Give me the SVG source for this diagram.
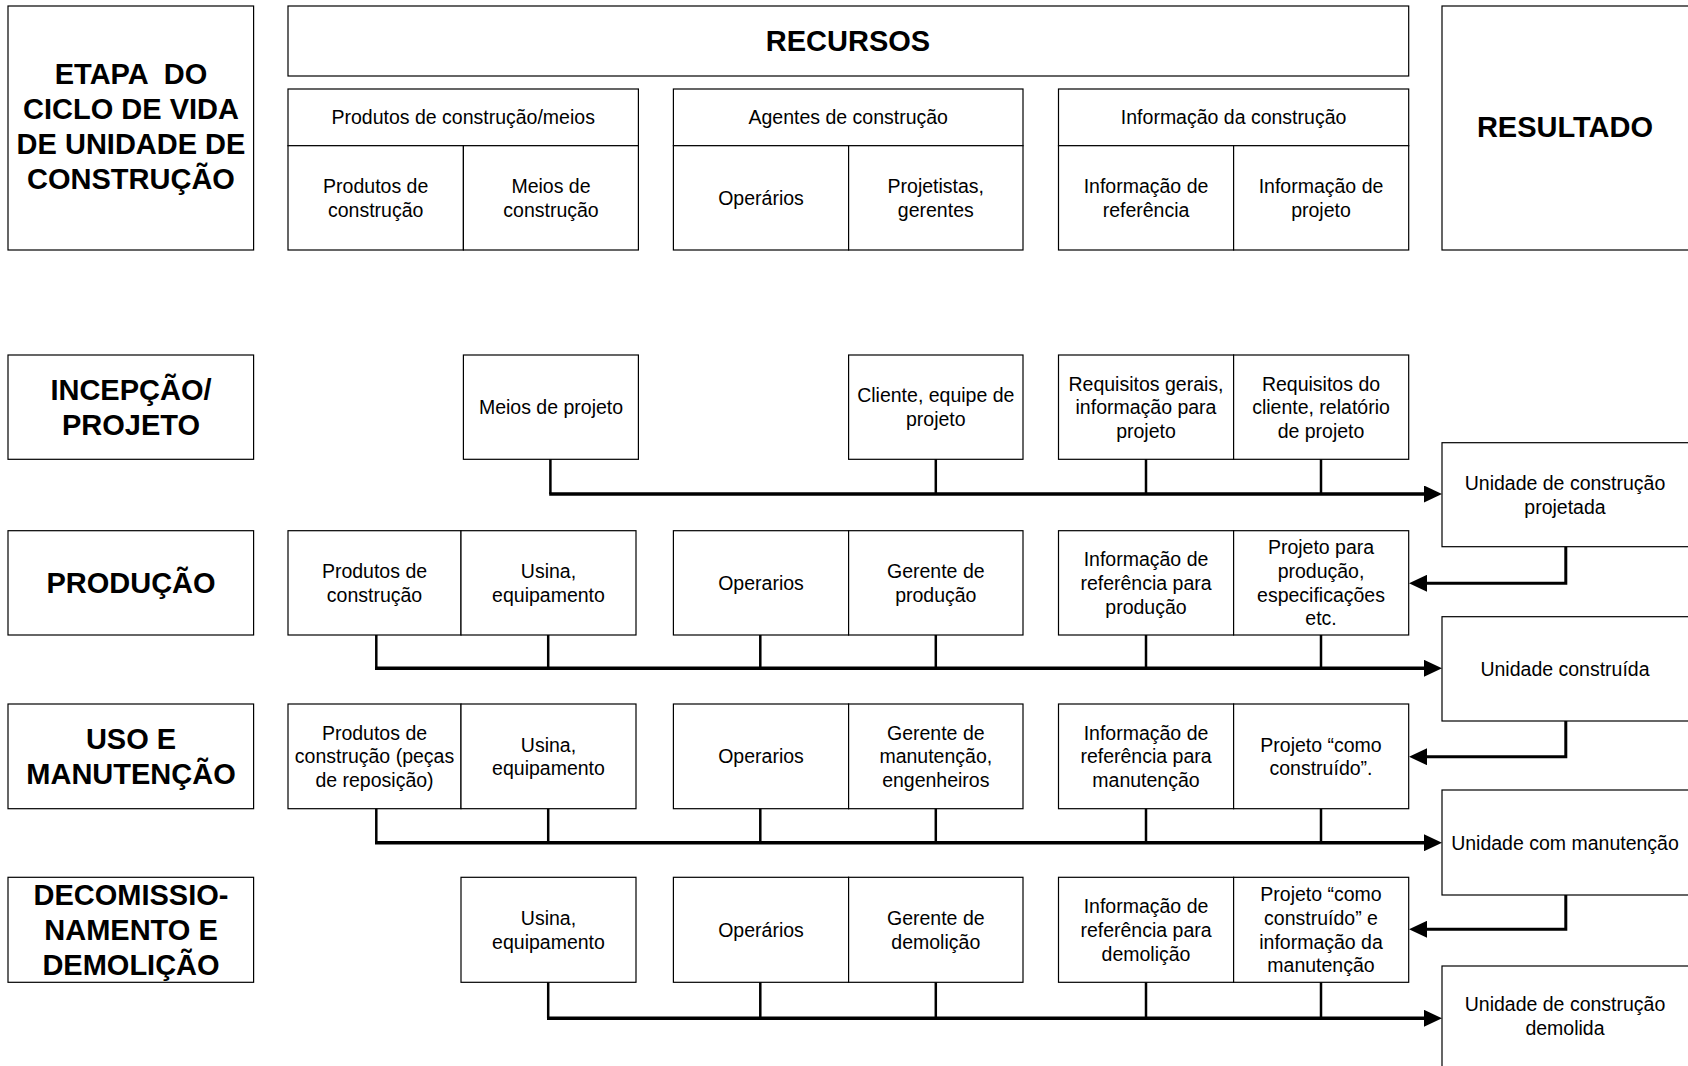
<svg xmlns="http://www.w3.org/2000/svg" width="1688" height="1066" viewBox="0 0 1688 1066">
<style>
rect{fill:#fff;stroke:#000;stroke-width:1.2}
text{font-family:"Liberation Sans",Arial,sans-serif;fill:#000;text-anchor:middle}
.b{font-size:29px;font-weight:bold}
.s{font-size:19.5px}
.drop{stroke:#000;stroke-width:2.5;fill:none}
.bus{stroke:#000;stroke-width:3.5;fill:none}
.ret{stroke:#000;stroke-width:3;fill:none}
</style>
<defs>
<marker id="ah" markerUnits="userSpaceOnUse" markerWidth="18" markerHeight="17" refX="6" refY="8.5" orient="auto">
<path d="M0,0 L18,8.5 L0,17 z" fill="#000"/>
</marker>
</defs>
<rect x="0" y="0" width="1688" height="1066" style="stroke:none"/>

<!-- Header -->
<g id="stage-header">
<rect x="8" y="6" width="245.6" height="244"/>
<text class="b"><tspan x="131" y="84" xml:space="preserve" style="white-space:pre">ETAPA  DO</tspan><tspan x="131" y="119">CICLO DE VIDA</tspan><tspan x="131" y="154">DE UNIDADE DE</tspan><tspan x="131" y="189">CONSTRUÇÃO</tspan></text>
</g>
<g id="recursos">
<rect x="288" y="6" width="1120.7" height="70"/>
<text class="b" x="848" y="51">RECURSOS</text>
</g>
<g id="resultado">
<rect x="1442" y="6" width="260" height="244"/>
<text class="b" x="1565" y="137">RESULTADO</text>
</g>

<g id="h-produtos-meios">
<rect x="288" y="89" width="350.4" height="56.7"/>
<text class="s" x="463.2" y="124.4">Produtos de construção/meios</text>
</g>
<g id="h-produtos">
<rect x="288" y="145.7" width="175.4" height="104.3"/>
<text class="s"><tspan x="375.7" y="193">Produtos de</tspan><tspan x="375.7" y="217">construção</tspan></text>
</g>
<g id="h-meios">
<rect x="463.4" y="145.7" width="175" height="104.3"/>
<text class="s"><tspan x="551" y="193">Meios de</tspan><tspan x="551" y="217">construção</tspan></text>
</g>
<g id="h-agentes">
<rect x="673.4" y="89" width="349.6" height="56.7"/>
<text class="s" x="848.2" y="124.4">Agentes de construção</text>
</g>
<g id="h-operarios">
<rect x="673.4" y="145.7" width="175.2" height="104.3"/>
<text class="s" x="761" y="205">Operários</text>
</g>
<g id="h-projetistas">
<rect x="848.6" y="145.7" width="174.4" height="104.3"/>
<text class="s"><tspan x="935.8" y="193">Projetistas,</tspan><tspan x="935.8" y="217">gerentes</tspan></text>
</g>
<g id="h-informacao">
<rect x="1058.5" y="89" width="350.2" height="56.7"/>
<text class="s" x="1233.6" y="124.4">Informação da construção</text>
</g>
<g id="h-info-ref">
<rect x="1058.5" y="145.7" width="175.1" height="104.3"/>
<text class="s"><tspan x="1146" y="193">Informação de</tspan><tspan x="1146" y="217">referência</tspan></text>
</g>
<g id="h-info-proj">
<rect x="1233.6" y="145.7" width="175.1" height="104.3"/>
<text class="s"><tspan x="1321" y="193">Informação de</tspan><tspan x="1321" y="217">projeto</tspan></text>
</g>

<!-- Row 1 -->
<g id="r1-stage">
<rect x="8" y="355" width="245.6" height="104.3"/>
<text class="b"><tspan x="131" y="400">INCEPÇÃO/</tspan><tspan x="131" y="435">PROJETO</tspan></text>
</g>
<g id="r1-meios">
<rect x="463.4" y="355" width="175" height="104.3"/>
<text class="s" x="551" y="414">Meios de projeto</text>
</g>
<g id="r1-cliente">
<rect x="848.6" y="355" width="174.4" height="104.3"/>
<text class="s"><tspan x="935.8" y="402.3">Cliente, equipe de</tspan><tspan x="935.8" y="426">projeto</tspan></text>
</g>
<g id="r1-req-gerais">
<rect x="1058.5" y="355" width="175.1" height="104.3"/>
<text class="s"><tspan x="1146" y="390.5">Requisitos gerais,</tspan><tspan x="1146" y="414.2">informação para</tspan><tspan x="1146" y="437.9">projeto</tspan></text>
</g>
<g id="r1-req-cliente">
<rect x="1233.6" y="355" width="175.1" height="104.3"/>
<text class="s"><tspan x="1321" y="390.5">Requisitos do</tspan><tspan x="1321" y="414.2">cliente, relatório</tspan><tspan x="1321" y="437.9">de projeto</tspan></text>
</g>
<g id="r1-result">
<rect x="1442" y="442.7" width="260" height="104"/>
<text class="s"><tspan x="1565" y="489.8">Unidade de construção</tspan><tspan x="1565" y="513.5">projetada</tspan></text>
</g>

<!-- Row 2 -->
<g id="r2-stage">
<rect x="8" y="530.7" width="245.6" height="104.3"/>
<text class="b" x="131" y="592.5">PRODUÇÃO</text>
</g>
<g id="r2-produtos">
<rect x="288" y="530.7" width="173" height="104.3"/>
<text class="s"><tspan x="374.5" y="578">Produtos de</tspan><tspan x="374.5" y="601.7">construção</tspan></text>
</g>
<g id="r2-usina">
<rect x="461" y="530.7" width="175" height="104.3"/>
<text class="s"><tspan x="548.5" y="578">Usina,</tspan><tspan x="548.5" y="601.7">equipamento</tspan></text>
</g>
<g id="r2-operarios">
<rect x="673.4" y="530.7" width="175.2" height="104.3"/>
<text class="s" x="761" y="589.9">Operarios</text>
</g>
<g id="r2-gerente">
<rect x="848.6" y="530.7" width="174.4" height="104.3"/>
<text class="s"><tspan x="935.8" y="578">Gerente de</tspan><tspan x="935.8" y="601.7">produção</tspan></text>
</g>
<g id="r2-info-ref">
<rect x="1058.5" y="530.7" width="175.1" height="104.3"/>
<text class="s"><tspan x="1146" y="566.2">Informação de</tspan><tspan x="1146" y="589.9">referência para</tspan><tspan x="1146" y="613.6">produção</tspan></text>
</g>
<g id="r2-projeto">
<rect x="1233.6" y="530.7" width="175.1" height="104.3"/>
<text class="s"><tspan x="1321" y="554.3">Projeto para</tspan><tspan x="1321" y="578">produção,</tspan><tspan x="1321" y="601.7">especificações</tspan><tspan x="1321" y="625.4">etc.</tspan></text>
</g>
<g id="r2-result">
<rect x="1442" y="616.7" width="260" height="104.3"/>
<text class="s" x="1565" y="675.8">Unidade construída</text>
</g>

<!-- Row 3 -->
<g id="r3-stage">
<rect x="8" y="704" width="245.6" height="104.7"/>
<text class="b"><tspan x="131" y="749">USO E</tspan><tspan x="131" y="784">MANUTENÇÃO</tspan></text>
</g>
<g id="r3-produtos">
<rect x="288" y="704" width="173" height="104.7"/>
<text class="s"><tspan x="374.5" y="739.7">Produtos de</tspan><tspan x="374.5" y="763.4">construção (peças</tspan><tspan x="374.5" y="787.1">de reposição)</tspan></text>
</g>
<g id="r3-usina">
<rect x="461" y="704" width="175" height="104.7"/>
<text class="s"><tspan x="548.5" y="751.5">Usina,</tspan><tspan x="548.5" y="775.2">equipamento</tspan></text>
</g>
<g id="r3-operarios">
<rect x="673.4" y="704" width="175.2" height="104.7"/>
<text class="s" x="761" y="763.4">Operarios</text>
</g>
<g id="r3-gerente">
<rect x="848.6" y="704" width="174.4" height="104.7"/>
<text class="s"><tspan x="935.8" y="739.7">Gerente de</tspan><tspan x="935.8" y="763.4">manutenção,</tspan><tspan x="935.8" y="787.1">engenheiros</tspan></text>
</g>
<g id="r3-info-ref">
<rect x="1058.5" y="704" width="175.1" height="104.7"/>
<text class="s"><tspan x="1146" y="739.7">Informação de</tspan><tspan x="1146" y="763.4">referência para</tspan><tspan x="1146" y="787.1">manutenção</tspan></text>
</g>
<g id="r3-projeto">
<rect x="1233.6" y="704" width="175.1" height="104.7"/>
<text class="s"><tspan x="1321" y="751.5">Projeto “como</tspan><tspan x="1321" y="775.2">construído”.</tspan></text>
</g>
<g id="r3-result">
<rect x="1442" y="790" width="260" height="105"/>
<text class="s" x="1565" y="849.5">Unidade com manutenção</text>
</g>

<!-- Row 4 -->
<g id="r4-stage">
<rect x="8" y="877.3" width="245.6" height="105"/>
<text class="b"><tspan x="131" y="905.2">DECOMISSIO-</tspan><tspan x="131" y="940.2">NAMENTO E</tspan><tspan x="131" y="975.2">DEMOLIÇÃO</tspan></text>
</g>
<g id="r4-usina">
<rect x="461" y="877.3" width="175" height="105"/>
<text class="s"><tspan x="548.5" y="924.9">Usina,</tspan><tspan x="548.5" y="948.6">equipamento</tspan></text>
</g>
<g id="r4-operarios">
<rect x="673.4" y="877.3" width="175.2" height="105"/>
<text class="s" x="761" y="936.8">Operários</text>
</g>
<g id="r4-gerente">
<rect x="848.6" y="877.3" width="174.4" height="105"/>
<text class="s"><tspan x="935.8" y="924.9">Gerente de</tspan><tspan x="935.8" y="948.6">demolição</tspan></text>
</g>
<g id="r4-info-ref">
<rect x="1058.5" y="877.3" width="175.1" height="105"/>
<text class="s"><tspan x="1146" y="913.1">Informação de</tspan><tspan x="1146" y="936.8">referência para</tspan><tspan x="1146" y="960.5">demolição</tspan></text>
</g>
<g id="r4-projeto">
<rect x="1233.6" y="877.3" width="175.1" height="105"/>
<text class="s"><tspan x="1321" y="901.2">Projeto “como</tspan><tspan x="1321" y="924.9">construído” e</tspan><tspan x="1321" y="948.6">informação da</tspan><tspan x="1321" y="972.3">manutenção</tspan></text>
</g>
<g id="r4-result">
<rect x="1442" y="966" width="260" height="120"/>
<text class="s"><tspan x="1565" y="1011.4">Unidade de construção</tspan><tspan x="1565" y="1035">demolida</tspan></text>
</g>

<!-- Connectors -->
<g id="connectors">
<path class="drop" d="M550.4,459.3V494 M935.8,459.3V494 M1146,459.3V494 M1321,459.3V494"/>
<path class="bus" d="M549.2,494H1430" marker-end="url(#ah)"/>
<path class="ret" d="M1565.8,546.7V583.3H1421" marker-end="url(#ah)"/>

<path class="drop" d="M376.3,635V668.3 M548.2,635V668.3 M760.3,635V668.3 M935.8,635V668.3 M1146,635V668.3 M1321,635V668.3"/>
<path class="bus" d="M375,668.3H1430" marker-end="url(#ah)"/>
<path class="ret" d="M1565.8,721V756.7H1421" marker-end="url(#ah)"/>

<path class="drop" d="M376.3,808.7V842.7 M548.2,808.7V842.7 M760.3,808.7V842.7 M935.8,808.7V842.7 M1146,808.7V842.7 M1321,808.7V842.7"/>
<path class="bus" d="M375,842.7H1430" marker-end="url(#ah)"/>
<path class="ret" d="M1565.8,895V929.3H1421" marker-end="url(#ah)"/>

<path class="drop" d="M548.2,982.3V1018.3 M760.3,982.3V1018.3 M935.8,982.3V1018.3 M1146,982.3V1018.3 M1321,982.3V1018.3"/>
<path class="bus" d="M547,1018.3H1430" marker-end="url(#ah)"/>
</g>
</svg>
